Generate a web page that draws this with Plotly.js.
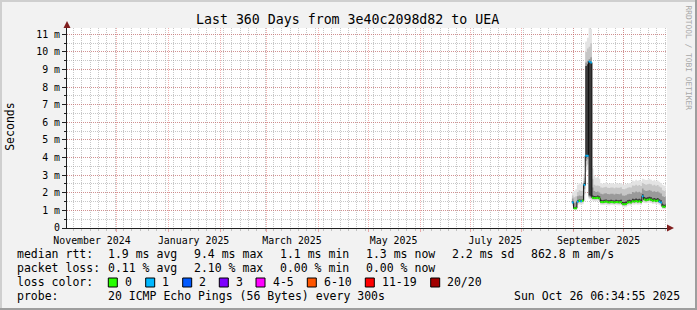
<!DOCTYPE html>
<html><head><meta charset="utf-8">
<script src="https://cdn.plot.ly/plotly-3.0.1.min.js"></script>
<style>
html,body{margin:0;padding:0;background:#f2f2f2;}
#wrap{position:relative;width:697px;height:310px;overflow:hidden;}
#chart{position:absolute;left:0;top:0;width:697px;height:310px;}
.edge{position:absolute;pointer-events:none;}
</style></head><body>
<div id="wrap"><div id="chart"></div>
<div class="edge" style="left:0;top:0;width:697px;height:2px;background:#cfcfcf"></div>
<div class="edge" style="left:0;top:0;width:2px;height:310px;background:#cfcfcf"></div>
<div class="edge" style="left:0;top:308px;width:697px;height:2px;background:#9e9e9e"></div>
<div class="edge" style="left:695px;top:0;width:2px;height:310px;background:#9e9e9e"></div>
</div>
<script>
// ---------------- data ----------------
const titleText = 'Last 360 Days from 3e40c2098d82 to UEA';
const firstDay = '2025-08-31';
const nowStamp = '2025-10-26 06:34:55';
const rangeStart = '2024-11-01 01:00';
const rangeEnd = '2025-10-27 01:00';

const median = [1.45,1.12,1.12,1.50,1.55,1.52,1.55,2.45,4.10,4.10,
  9.45,9.40,1.72,1.70,1.70,1.72,1.68,1.48,1.47,1.48,
  1.50,1.47,1.46,1.48,1.47,1.45,1.48,1.47,1.46,1.48,
  1.36,1.35,1.37,1.45,1.47,1.45,1.52,1.50,1.53,1.50,
  1.52,1.48,1.80,1.62,1.58,1.60,1.63,1.60,1.55,1.57,
  1.53,1.56,1.50,1.45,1.22,1.20,1.25];
const lossCount = [1,0,0,1,0,1,0,1,1,1,
  1,1,0,0,0,0,0,0,0,0,
  0,0,0,0,0,0,0,0,0,0,
  0,0,0,0,0,0,0,0,0,0,
  0,0,1,0,0,0,0,0,0,0,
  0,0,1,1,0,0,0];
const pingMin = [1.25,1.02,1.03,1.30,1.35,1.32,1.35,1.50,3.20,3.30,
  1.65,1.60,1.55,1.52,1.52,1.55,1.50,1.30,1.30,1.31,
  1.32,1.29,1.28,1.30,1.30,1.28,1.30,1.29,1.28,1.30,
  1.18,1.17,1.19,1.27,1.29,1.27,1.33,1.32,1.35,1.32,
  1.34,1.30,1.45,1.42,1.40,1.42,1.44,1.42,1.37,1.39,
  1.35,1.38,1.30,1.25,1.08,1.06,1.10];
const ping15 = [1.33,1.06,1.07,1.40,1.45,1.42,1.45,1.90,3.50,3.60,
  1.72,1.68,1.62,1.60,1.60,1.62,1.58,1.38,1.38,1.39,
  1.40,1.37,1.36,1.38,1.38,1.36,1.38,1.37,1.36,1.38,
  1.26,1.25,1.27,1.35,1.37,1.35,1.42,1.40,1.43,1.40,
  1.42,1.38,1.60,1.51,1.48,1.50,1.53,1.50,1.45,1.47,
  1.43,1.46,1.40,1.35,1.14,1.12,1.16];
const ping30 = [1.38,1.08,1.09,1.45,1.50,1.47,1.50,2.20,3.80,3.90,
  1.78,1.74,1.67,1.65,1.65,1.67,1.63,1.43,1.42,1.43,
  1.45,1.42,1.41,1.43,1.42,1.40,1.43,1.42,1.41,1.43,
  1.31,1.30,1.32,1.40,1.42,1.40,1.47,1.45,1.48,1.45,
  1.47,1.43,1.70,1.56,1.53,1.55,1.58,1.55,1.50,1.52,
  1.48,1.51,1.45,1.40,1.18,1.16,1.20];
const ping45 = [1.42,1.10,1.10,1.48,1.53,1.50,1.53,2.38,4.00,4.05,
  1.85,1.80,1.70,1.68,1.68,1.70,1.66,1.46,1.45,1.46,
  1.48,1.45,1.44,1.46,1.45,1.43,1.46,1.45,1.44,1.46,
  1.34,1.33,1.35,1.43,1.45,1.43,1.50,1.48,1.51,1.48,
  1.50,1.46,1.76,1.60,1.56,1.58,1.61,1.58,1.53,1.55,
  1.51,1.54,1.48,1.43,1.20,1.18,1.23];
const ping55 = [1.52,1.18,1.20,1.58,1.62,1.60,1.62,2.55,9.20,9.30,
  9.45,9.40,1.85,1.82,1.80,1.85,1.80,1.60,1.58,1.60,
  1.62,1.58,1.57,1.60,1.58,1.56,1.60,1.58,1.57,1.60,
  1.48,1.47,1.50,1.58,1.60,1.58,1.66,1.64,1.68,1.64,
  1.66,1.62,1.92,1.76,1.72,1.74,1.78,1.74,1.68,1.70,
  1.66,1.70,1.64,1.58,1.35,1.32,1.38];
const ping70 = [1.68,1.40,1.45,1.80,1.85,1.82,1.85,2.65,9.40,9.50,
  9.60,9.70,2.30,2.10,2.05,2.08,2.02,1.95,1.92,1.96,
  1.98,1.93,1.92,1.95,1.94,1.90,1.95,1.93,1.92,1.96,
  1.85,1.83,1.86,1.92,1.95,1.93,2.05,2.02,2.08,2.03,
  2.06,2.00,2.25,2.15,2.10,2.12,2.16,2.12,2.06,2.09,
  2.04,2.08,2.02,1.96,1.80,1.76,1.82];
const ping85 = [1.85,1.75,1.80,2.05,2.15,2.10,2.12,2.85,10.0,10.2,
  10.3,10.5,2.80,2.45,2.40,2.42,2.38,2.30,2.28,2.32,
  2.34,2.28,2.27,2.30,2.30,2.26,2.30,2.29,2.28,2.32,
  2.22,2.20,2.24,2.28,2.32,2.30,2.42,2.40,2.46,2.40,
  2.44,2.38,2.55,2.50,2.46,2.48,2.52,2.48,2.42,2.45,
  2.40,2.44,2.36,2.30,2.15,2.10,2.18];
const pingMax = [2.05,2.10,2.20,2.45,2.55,2.50,2.55,3.10,10.6,10.8,
  11.4,11.3,3.40,3.00,2.85,2.90,2.80,2.55,2.52,2.56,
  2.58,2.52,2.50,2.55,2.54,2.50,2.55,2.53,2.52,2.56,
  2.48,2.45,2.50,2.52,2.56,2.55,2.70,2.66,2.74,2.68,
  2.72,2.65,2.80,2.76,2.72,2.74,2.78,2.74,2.68,2.72,
  2.66,2.70,2.62,2.55,2.45,2.40,2.48];

const lossLabels = ['0','1','2','3','4-5','6-10','11-19','20/20'];
const lossColors = ['#26ff00','#00b8ff','#0059ff','#7e00ff','#ff00ff','#ff5500','#ff0000','#a10000'];
const lossBinMax = [0,1,2,3,5,10,19,20];

const monthLabels = ['November 2024','January 2025','March 2025','May 2025','July 2025','September 2025'];
const monthLabelStarts = ['2024-11-01','2025-01-01','2025-03-01','2025-05-01','2025-07-01','2025-09-01'];
const yTickVals = [0,1,2,3,4,5,6,7,8,9,10,11];
const yTickText = ['0','1 m','2 m','3 m','4 m','5 m','6 m','7 m','8 m','9 m','10 m','11 m'];

const rttStats = ['1.9 ms avg','9.4 ms max','1.1 ms min','1.3 ms now','2.2 ms sd','862.8 m am/s'];
const lossStats = ['0.11 % avg','2.10 % max','0.00 % min','0.00 % now'];
const probeText = '20 ICMP Echo Pings (56 Bytes) every 300s';
const stampText = 'Sun Oct 26 06:34:55 2025';

// ---------------- helpers ----------------
function addDays(s, n){ const d = new Date(s + 'T00:00:00Z'); d.setUTCDate(d.getUTCDate() + n); return d.toISOString().slice(0,10); }
const days = median.map((_, i) => addDays(firstDay, i));
const xs = days.concat([nowStamp]);
const ext = a => a.concat([a[a.length - 1]]);

const monthStarts = [];
for (let i = 0; i < 12; i++) { const d = new Date(Date.UTC(2024, 10 + i, 1)); monthStarts.push(d.toISOString().slice(0,10)); }
const labelDates = monthLabelStarts.map(s => addDays(s, 15));

const traces = [];
const bands = [[pingMin, pingMax, '#e3e3e3'], [ping15, ping85, '#c6c6c6'], [ping30, ping70, '#9a9a9a'], [ping45, ping55, '#3a3a3a']];
bands.forEach(([lo, hi, col]) => {
  traces.push({x: xs, y: ext(lo), type: 'scatter', mode: 'lines', line: {width: 0, shape: 'hv'}, hoverinfo: 'skip', showlegend: false});
  traces.push({x: xs, y: ext(hi), type: 'scatter', mode: 'lines', line: {width: 0, shape: 'hv'}, fill: 'tonexty', fillcolor: col, hoverinfo: 'skip', showlegend: false});
});
// median step line (verticals)
traces.push({x: xs, y: ext(median), type: 'scatter', mode: 'lines', line: {width: 1, shape: 'hv', color: '#111111'}, hoverinfo: 'skip', showlegend: false});
// coloured median segments by loss
function lossBin(c){ for (let k = 0; k < lossBinMax.length; k++) if (c <= lossBinMax[k]) return k; return lossBinMax.length - 1; }
const segs = lossColors.map(() => ({x: [], y: []}));
median.forEach((m, i) => {
  const b = lossBin(lossCount[i]);
  segs[b].x.push(xs[i], xs[i + 1], null);
  segs[b].y.push(m, m, null);
});
segs.forEach((s, k) => {
  if (s.x.length) traces.push({x: s.x, y: s.y, type: 'scatter', mode: 'lines', line: {width: 2, color: lossColors[k]}, hoverinfo: 'skip', showlegend: false});
});
// carrier for label axis
traces.push({x: days, y: median, xaxis: 'x2', yaxis: 'y', type: 'scatter', mode: 'none', hoverinfo: 'skip', showlegend: false});

// pixel -> paper
const PX = p => (p - 67) / 600;
const PY = p => (228 - p) / 200;
const mono = 'DejaVu Sans Mono, monospace';
const ann = [];
function txt(x, y, t, opts){ ann.push(Object.assign({xref: 'paper', yref: 'paper', x: PX(x), y: PY(y), text: t, showarrow: false, xanchor: 'left', yanchor: 'middle', borderpad: 0, font: {family: mono, size: 11.5, color: '#000'}}, opts || {})); }

ann.push({xref: 'paper', yref: 'paper', x: PX(347.5), y: PY(20), text: titleText, showarrow: false, xanchor: 'center', yanchor: 'middle', borderpad: 0, font: {family: mono, size: 13.25, color: '#000'}});
txt(10.5, 127.3, 'Seconds', {xanchor: 'center', textangle: -90});
txt(688, 57.5, 'RRDTOOL / TOBI OETIKER', {xanchor: 'center', textangle: 90, font: {family: mono, size: 7.9, color: '#a8a8a8'}});

const colX = [107.3, 193.3, 279.3, 365.3, 450.7, 530];
txt(16, 254.3, 'median rtt:');
rttStats.forEach((s, i) => txt(colX[i], 254.3, s));
txt(16, 268.3, 'packet loss:');
lossStats.forEach((s, i) => txt(colX[i], 268.3, s));
txt(16, 282.3, 'loss color:');
const boxX = [108.3, 145.7, 182.7, 219.3, 256, 307.3, 365.3, 430.7];
const shapes = [];
lossLabels.forEach((l, i) => {
  shapes.push({type: 'rect', xref: 'paper', yref: 'paper', x0: PX(boxX[i]), x1: PX(boxX[i] + 9), y0: PY(287), y1: PY(278), fillcolor: lossColors[i], line: {color: '#000', width: 1}});
  txt(boxX[i] + 15.7, 282.3, l);
});
txt(16, 296, 'probe:');
txt(107.3, 296, probeText);
txt(513.3, 296, stampText);

// arrows
shapes.push({type: 'path', xref: 'paper', yref: 'paper', xsizemode: 'pixel', ysizemode: 'pixel', xanchor: 0, yanchor: 1, path: 'M-3.5,0 L3.5,0 L0,7 Z', fillcolor: '#801f1f', line: {width: 0}});
shapes.push({type: 'path', xref: 'paper', yref: 'paper', xsizemode: 'pixel', ysizemode: 'pixel', xanchor: 1, yanchor: 0, path: 'M0,-3.5 L0,3.5 L7,0 Z', fillcolor: '#801f1f', line: {width: 0}});

const gridGray = 'rgba(143,143,143,0.5)';
const gridRed = 'rgba(222,79,79,0.45)';
const layout = {
  width: 697, height: 310,
  margin: {l: 67, r: 30, t: 28, b: 82, pad: 0},
  paper_bgcolor: '#f2f2f2', plot_bgcolor: '#ffffff',
  showlegend: false,
  font: {family: mono, color: '#000', size: 10},
  xaxis: {type: 'date', range: [rangeStart, rangeEnd], tickmode: 'array', tickvals: monthStarts, showticklabels: false,
    showgrid: true, gridcolor: gridRed, griddash: '1px,1px', gridwidth: 1,
    ticks: 'outside', ticklen: 3, tickcolor: gridRed, tickwidth: 1,
    showline: true, linecolor: '#1f1f1f', linewidth: 1, zeroline: false, fixedrange: true,
    minor: {tickmode: 'linear', tick0: '2024-10-31', dtick: 5 * 86400000, showgrid: true, gridcolor: gridGray, griddash: '1px,1px', gridwidth: 1, ticks: 'outside', ticklen: 2, tickcolor: gridGray}},
  xaxis2: {type: 'date', overlaying: 'x', anchor: 'y', side: 'bottom', range: [rangeStart, rangeEnd], tickmode: 'array', tickvals: labelDates, ticktext: monthLabels,
    showgrid: false, ticks: '', showline: false, zeroline: false, ticklabelstandoff: 5, tickfont: {family: mono, size: 9.9, color: '#000'}, fixedrange: true},
  yaxis: {range: [0, 11.36], tickmode: 'array', tickvals: yTickVals, ticktext: yTickText,
    showgrid: true, gridcolor: gridRed, griddash: '1px,1px', gridwidth: 1,
    ticks: 'outside', ticklen: 4, tickcolor: '#1f1f1f', tickwidth: 1,
    showline: true, linecolor: '#1f1f1f', linewidth: 1, zeroline: false, fixedrange: true,
    tickfont: {family: mono, size: 9.9, color: '#000'},
    minor: {tickmode: 'linear', tick0: 0, dtick: 0.5, showgrid: true, gridcolor: gridGray, griddash: '1px,1px', gridwidth: 1, ticks: 'outside', ticklen: 2, tickcolor: '#1f1f1f'}},
  annotations: ann,
  shapes: shapes
};
Plotly.newPlot('chart', traces, layout, {staticPlot: true, displayModeBar: false});
</script>
</body></html>
